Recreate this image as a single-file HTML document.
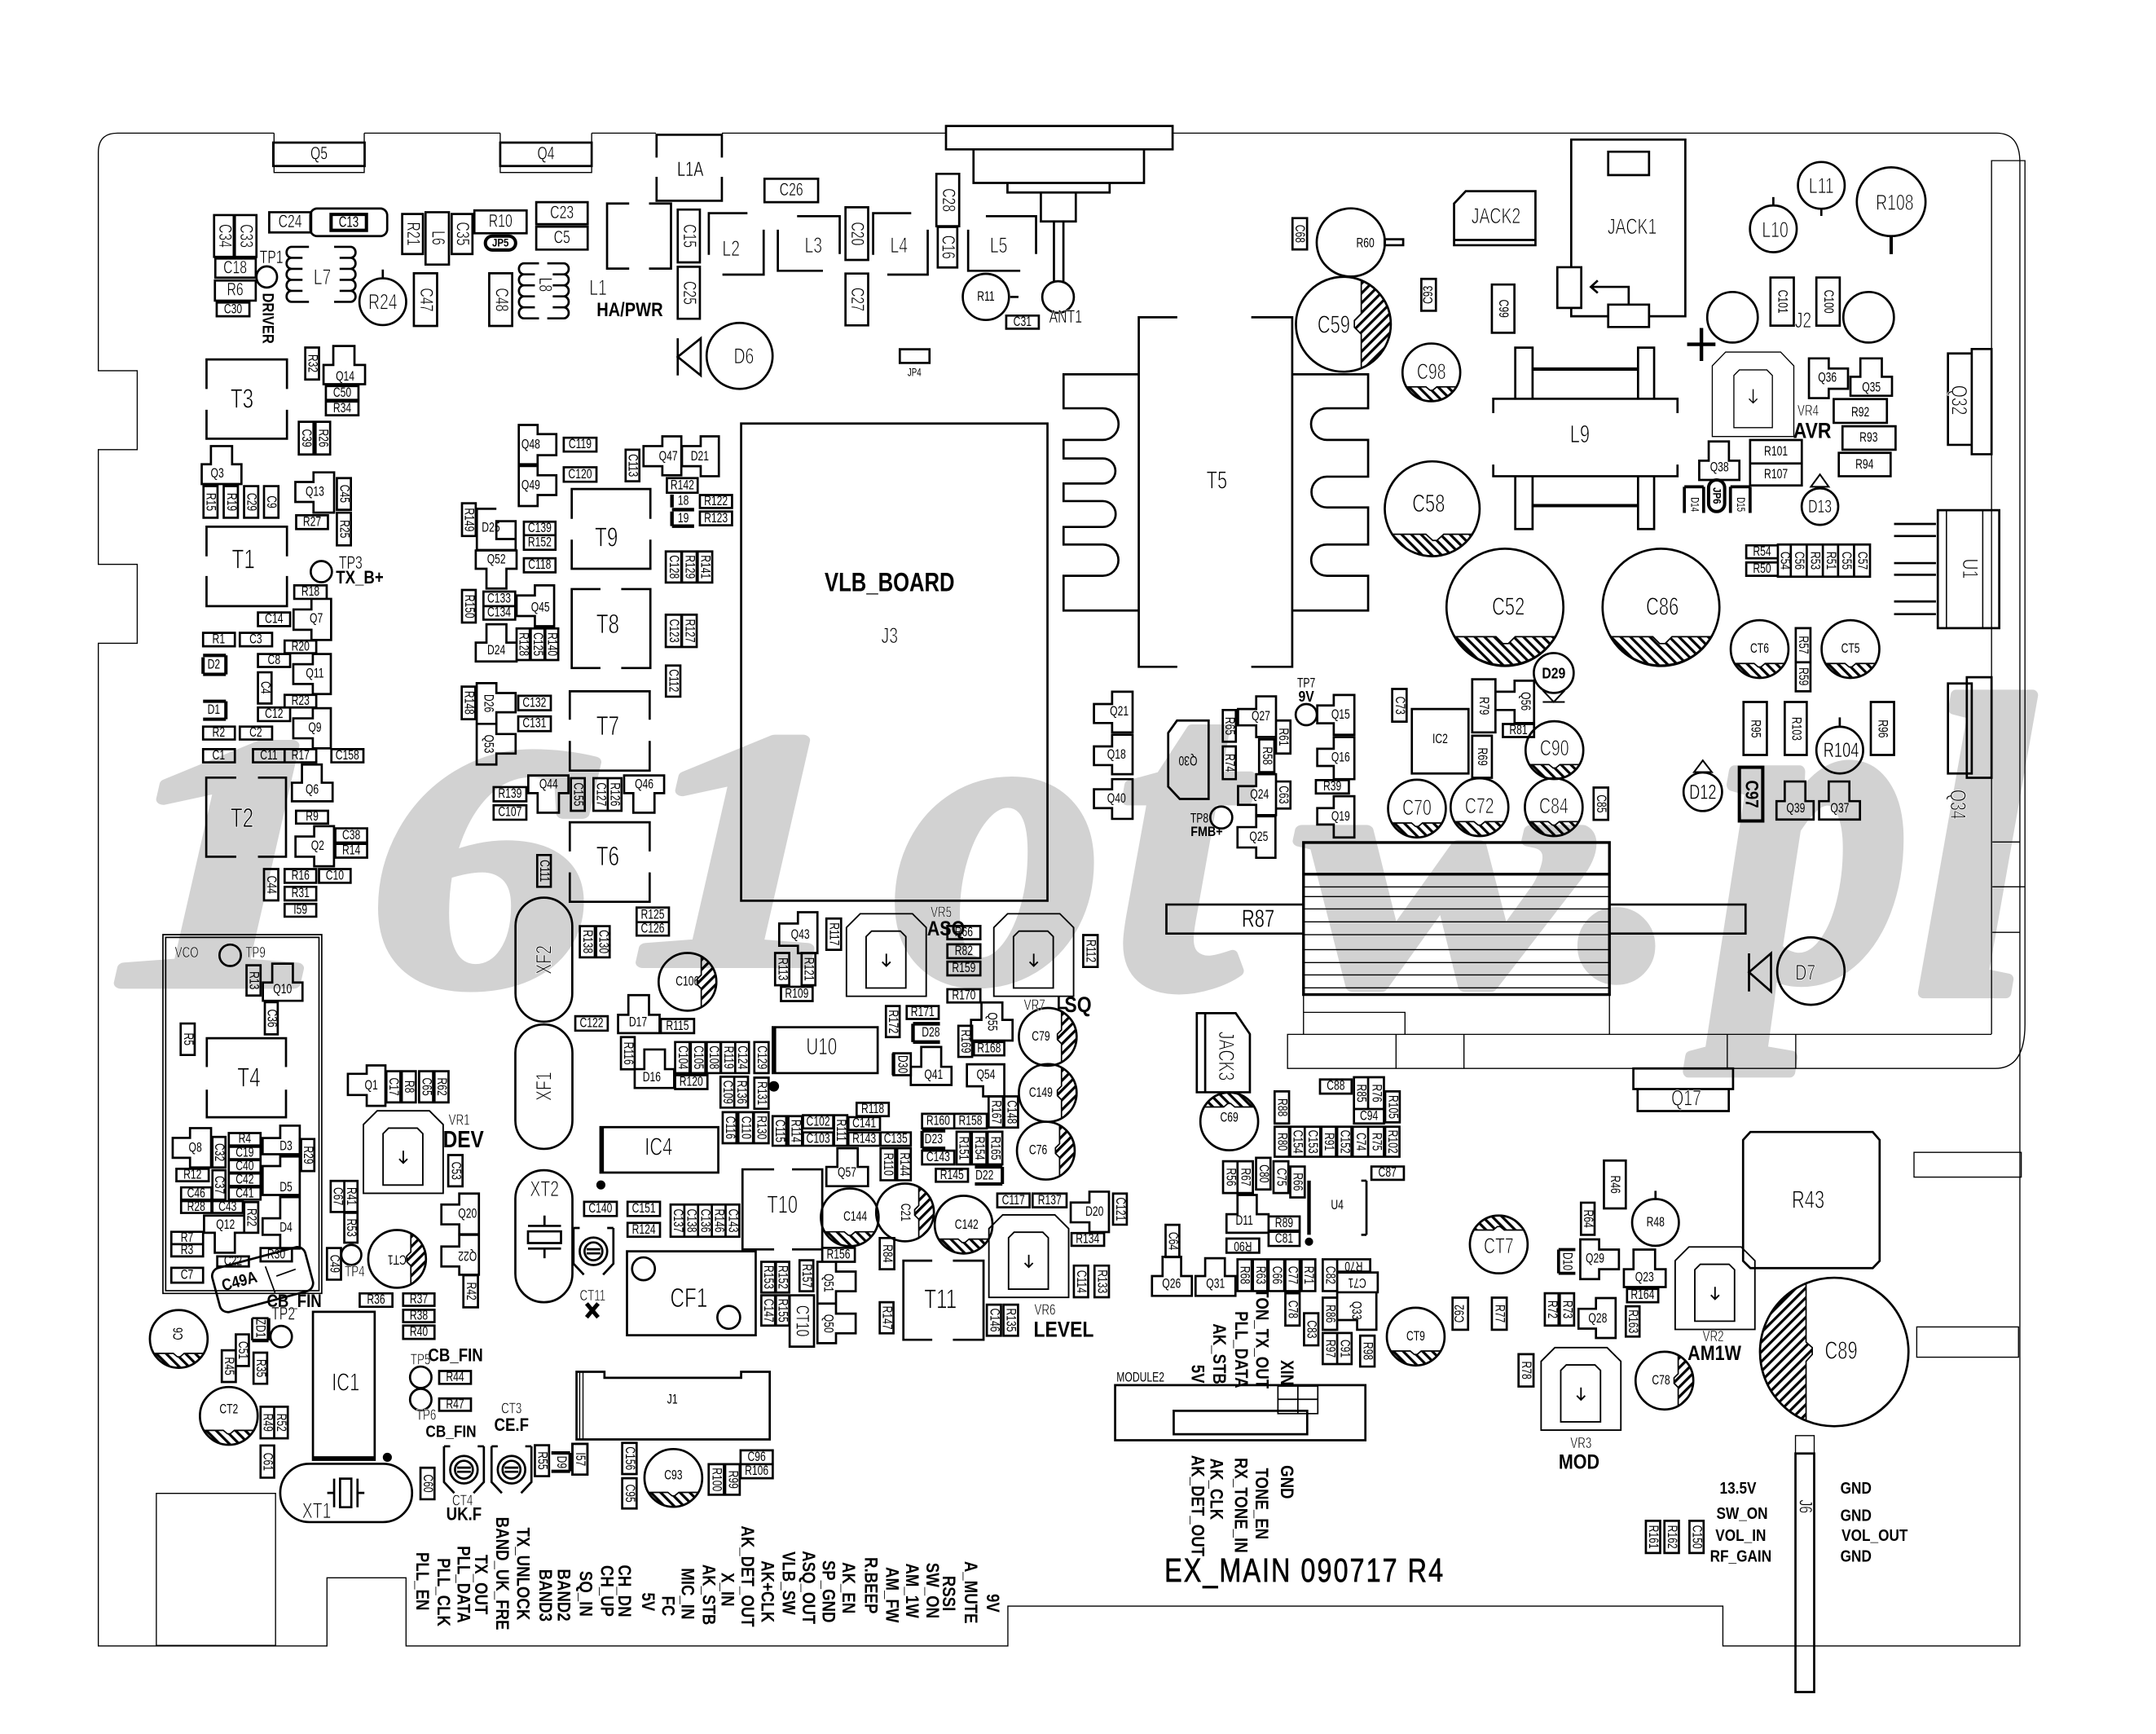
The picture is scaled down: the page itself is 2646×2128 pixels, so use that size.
<!DOCTYPE html>
<html><head><meta charset="utf-8"><title>EX_MAIN 090717 R4</title>
<style>
html,body{margin:0;padding:0;background:#fff}
svg{display:block}
.p{fill:none;stroke:#000;stroke-width:1.6}
.h{fill:none;stroke:#000;stroke-width:.8}
text{font:10px "Liberation Sans",sans-serif;fill:#000;stroke:none;text-anchor:middle;dominant-baseline:central;--s:.72;transform-box:fill-box;transform-origin:center;transform:scaleX(var(--s))}
.v{transform:rotate(90deg) scaleX(var(--s))}
.u{transform:rotate(-90deg) scaleX(var(--s))}
.i{transform:rotate(180deg) scaleX(var(--s))}
.c{transform:rotate(-15deg) scaleX(var(--s))}
.m{font-size:13px}.l{font-size:16px}.x{font-size:20px}.n{font-size:8px}
.B{font-weight:bold;--s:.85}
.m:not(.B){stroke:#fff;stroke-width:.25}
.l:not(.B),.x:not(.B){stroke:#fff;stroke-width:.5}
text.w{font:italic bold 262px "Liberation Serif",serif;fill:#d2d2d2;stroke:#d2d2d2;stroke-width:8;stroke-linejoin:round;text-anchor:start;dominant-baseline:auto;transform:none}
</style></head><body>
<svg xmlns="http://www.w3.org/2000/svg" width="2646" height="2128" viewBox="0 0 1568 1261">
<defs>
<pattern id="hr" width="5" height="5" patternUnits="userSpaceOnUse" patternTransform="rotate(45)"><rect width="1.9" height="5" fill="#000"/></pattern>
<pattern id="hl" width="5" height="5" patternUnits="userSpaceOnUse" patternTransform="rotate(-45)"><rect width="1.9" height="5" fill="#000"/></pattern>
<g id="cb"><circle r="21"/><path fill="url(#hl)" stroke-width="1" d="M-18.2 10.5H-4L-1 13H1L4 10.5H18.2A21 21 0 0 1 -18.2 10.5Z"/></g>
<g id="ct"><circle r="21"/><path fill="url(#hl)" stroke-width="1" d="M-18.2 -10.5H-4L-1 -13H1L4 -10.5H18.2A21 21 0 0 0 -18.2 -10.5Z"/></g>
<g id="cr"><circle r="21"/><path fill="url(#hr)" stroke-width="1" d="M10 -18.5A21 21 0 0 1 10 18.5V5L7 2V-2L10 -5Z"/></g>
<g id="vr"><path stroke-width="1.1" d="M0 60V10L10 0H48L58 10V60Z"/><path stroke-width="1.1" d="M14.3 54V16.6L18.3 12.6H39.2L43.2 16.6V54Z"/><path stroke-width="1.1" d="M29 29V38M26 35L29 38L32 35"/></g>
<g id="tr"><path d="M-14.5 -17H-10M-14.5 -17V9L-7 17M14.5 -17H10M14.5 -17V9L7 17"/><circle r="10"/><circle r="6.5"/><path d="M-5 -1.5H5M-5 1.5H5"/></g>
</defs>

<g transform="translate(80 715) scale(1.3 1)"><text class="w">1</text></g>
<g transform="translate(269 715) scale(1.3 1)"><text class="w" style="font-size:251px">6</text></g>
<g transform="translate(460 700) scale(1.3 1)"><text class="w" style="font-size:245px">1</text></g>
<g transform="translate(650 712)"><text class="w" style="font-size:304px">o</text></g>
<g transform="translate(810 716)"><text class="w" style="font-size:329px">t</text></g>
<g transform="translate(945 715) scale(1.3 1)"><text class="w" style="font-size:242px">w</text></g>
<g transform="translate(1149 708)"><text class="w" style="font-size:300px">.</text></g>
<g transform="translate(1248 710) scale(1 1.15)"><text class="w" style="font-size:282px">p</text></g>
<g transform="translate(1392 722)"><text class="w" style="font-size:312px">l</text></g>

<!-- board outline and thin lines -->
<g class="h">
<path d="M199.3 96.8H85.5Q71.5 96.8 71.5 110.8V269.6H99.8V327H71.5V410.4H99.8V467.8H71.5V1197H237.8V1147.4H295.3V1197H733V1168H1253V1197H1469V118Q1469 96.8 1452 96.8H853M264.9 96.8H363.8M430.3 96.8H477M199.3 96.8V125.4H264.9V96.8M363.8 96.8V125.4H430.3V96.8M525 96.8H688"/>
<path d="M1448.4 752V116.8H1472.7V745Q1472.7 777 1451 777H936.4V752.2H1448.4M1015.3 752.2V777M1064.7 752.2V777M1256.2 752.2V777M1306 752.2V777"/>
<path d="M1449 612.3H1469M1449 644.9H1472.7M1449 678H1469"/>
<path d="M948 723V752.2M1170.5 723V752.2M948 736.2H1021.8V752.2"/>
<path d="M1392 838H1470V856H1392ZM1394 965H1468V987H1394ZM113.7 1086H200.4V1196.6H113.7Z"/>
<path d="M948 645H1170.5M948 652H1170.5M948 661H1170.5M948 670.4H1170.5M948 679.7H1170.5M948 690.6H1170.5M948 700H1170.5M948 709H1170.5M948 718.4H1170.5"/>
<path d="M1245.3 317.4V266L1255 256H1295L1304.6 266V317.4ZM1261 311V273L1265 269H1285L1289 273V311ZM1275 283V293M1272 290L1275 293L1278 290"/>
</g>

<g class="p">
<!-- top transistors -->
<path d="M198.7 103.7H265.2V120.7H198.7ZM363.8 103.7H430.3V120.7H363.8Z"/>
<path d="M477.5 114.6V98H525V114.6M477.5 128.6V146H525V128.6"/>
<path d="M155.7 156.4H170V186.8H155.7ZM170.8 156.4H186.5V186.8H170.8ZM156.6 188H186V201.9H156.6ZM156.3 204H186V218.6H156.3ZM157.6 220H181.4V230H157.6Z"/>
<ellipse cx="194" cy="201.4" rx="7.5" ry="7.7"/>
<path d="M195.8 154.3H226.3V169H195.8Z"/><rect x="225.7" y="151.6" width="55.9" height="20.1" rx="5"/><path d="M240.8 155.9H266.5V167.5H240.8Z" stroke-width="2.4"/>
<path d="M224.7 179.5H212a3.6 4 0 0 0 0 8h8m-8 0a3.6 4 0 0 0 0 8h8m-8 0a3.6 4 0 0 0 0 8h8m-8 0a3.6 4 0 0 0 0 8h8m-8 0a3.6 4 0 0 0 0 8H224.7M243 179.5H255a3.6 4 0 0 1 0 8h-8m8 0a3.6 4 0 0 1 0 8h-8m8 0a3.6 4 0 0 1 0 8h-8m8 0a3.6 4 0 0 1 0 8h-8m8 0a3.6 4 0 0 1 0 8H243"/>
<circle cx="278.4" cy="219.4" r="17"/><path d="M278.4 196V202.4"/>
<path d="M292.5 155.6H307.6V184.7H292.5ZM309.5 154.3H326.5V192.4H309.5ZM328.5 155.6H343.6V184.7H328.5ZM345 153H383V169.6H345ZM390 147H427.4V163H390ZM390 164.8H427.4V181.5H390ZM301 198.7H317.9V237H301ZM355.8 198.7H372.5V237H355.8Z"/>
<rect x="353" y="171.7" width="22" height="10.1" rx="5" stroke-width="2.4"/>
<path d="M392 191.5H381a3.6 4 0 0 0 0 8h8m-8 0a3.6 4 0 0 0 0 8h8m-8 0a3.6 4 0 0 0 0 8h8m-8 0a3.6 4 0 0 0 0 8h8m-8 0a3.6 4 0 0 0 0 8H392M398 191.5H410a3.6 4 0 0 1 0 8h-8m8 0a3.6 4 0 0 1 0 8h-8m8 0a3.6 4 0 0 1 0 8h-8m8 0a3.6 4 0 0 1 0 8h-8m8 0a3.6 4 0 0 1 0 8H398"/>
<path d="M457.6 148H441.5V195.3H457.6M472 148H488V195.3H472"/>
<path d="M492.9 152.4H509V190.8H492.9ZM492.9 194H509V231.8H492.9ZM556 130H595V147H556Z"/>
<path d="M543.6 155H515.5V185.3M525.4 199.7H555.4V167M579.7 157.2H610.7V184.7M565.7 167V196.9H598.5M662.7 155H635V185.3M645.3 199.7H674.7V167M717 157.2H753.5V184.7M704.1 167V196.9H742"/>
<path d="M614.9 150.7H631.4V189H614.9ZM614.9 198.9H631.4V236.6H614.9ZM681 126.4H697.6V164.5H681ZM682 165H696.2V194.5H682Z"/>
<circle cx="717" cy="215.9" r="16.8"/><path d="M734.7 215.9H740.7M731.8 229.5H755.5V239H731.8ZM654.4 254H676V263.9H654.4Z"/>
<path d="M688 91.6H852.8V108.6H688ZM708 108.6V133H832V108.6M732.7 133V140H807V133M757 140V161H782.4V140M766.5 161V204.5M773.4 161V204.5"/>
<circle cx="769.5" cy="216" r="11.5"/>
<circle cx="537.9" cy="258.8" r="24"/><path d="M492.9 246V273M492.9 259.5L509.6 246V273Z"/>

<!-- left column -->
<path d="M150.2 282.9V261.4H208.7V282.9M150.2 298V319H208.7V298M150.2 404.6V383H208.7V404.6M150.2 418.9V440.8H208.7V418.9M171.8 565.5H150V623H171.8M187.6 565.5H208V623H187.6"/>
<path d="M222 252.7H232V276H222ZM235.3 279.4V265.4H242.4V251.6H257.8V265.4H265.5V279.4ZM237 280.7H260.7V290.8H237ZM237 292H260.7V302H237ZM217.3 306.7H228V330.5H217.3ZM229.5 306.7H240.1V330.5H229.5Z"/>
<path d="M146.7 352V337.6H153.4V324.4H168.8V337.6H175.6V352ZM148 353.5H158.2V376.5H148ZM162.7 353.5H173V376.5H162.7ZM177.5 353.5H187.8V376.5H177.5ZM192 353.5H202.5V376.5H192Z"/>
<path d="M228 343.5H243V372.8H228V365H214.8V350.5H228ZM245 347.7H255.2V370.7H245ZM245 372.8H255.2V396.6H245ZM215.4 374.7H238.5V384.7H215.4Z"/>
<circle cx="233.7" cy="415.7" r="7.7"/>
<path d="M214 425.7H237.6V435.5H214ZM226.5 435.5H240.8V465.4H226.5V458H213.5V443.2H226.5ZM187.6 445.4H211V455.3H187.6ZM147.7 460.2H170.8V470H147.7ZM174.4 460.2H197.9V470H174.4ZM207 465.8H230V475H207ZM187.6 475.6H211V485H187.6Z"/>
<path d="M227.5 475.6H240.6V504.7H227.5V497.4H213.3V483H227.5ZM187.6 488.9H197.5V511.6H187.6ZM207 505.3H230V514.5H207ZM187.6 514.5H211V524.4H187.6ZM227.5 515H240.6V544.2H227.5V536.9H213.3V522.4H227.5Z"/>
<path d="M147.7 528.4H170.8V537.8H147.7ZM174.4 528.4H197.9V537.8H174.4ZM147.7 544.8H170.8V554.4H147.7ZM184 544.8H207V554.4H184ZM207 544.8H230V554.4H207ZM241 544.8H264.3V554.4H241Z"/>
<path stroke-width="2.4" d="M147.7 478V490M164.3 476.6V490.4M147.7 476.6H164.3M147.7 490.4H164.3M147.7 510H164.3M147.7 523H164.3M164.3 510V523"/>
<path d="M212.3 582.7V569.2H219.6V556H234V569.2H241.9V582.7ZM215.3 589.6H238.6V598.9H215.3ZM228.5 600.8H242.9V630H228.5V623H214.9V608.3H228.5ZM243.9 602.4H267V612.7H243.9ZM243.9 613.7H267V623.7H243.9ZM207 632H230V642H207ZM232 632H255V642H232ZM192 632H202.4V654.8H192ZM207 644.9H230V654.8H207ZM207 657.3H230V666.6H207Z"/>

<!-- VCO -->
<path stroke-width="1" d="M118.5 679.7H234V940.6H118.5ZM120.5 681.7H232V938.6H120.5Z"/>
<circle cx="167.4" cy="694.7" r="7.8"/>
<path d="M179.3 702H189.5V724H179.3ZM191.2 727.8V714.5H198V700.8H213V714.5H220V727.8ZM192.6 728.8H202V752.2H192.6ZM131.4 744.3H141.6V767.2H131.4Z"/>
<path d="M150.4 776V755H208V776M150.4 792.4V812.5H208V792.4"/>
<path d="M138.2 820.4H153.5V849H138.2V842H125.6V827.5H138.2ZM154.5 826.8H164V849H154.5ZM154.5 851H164V872.4H154.5ZM166.4 824H189.5V833H166.4ZM166.4 834H189.5V843H166.4ZM166.4 843.7H189.5V852.7H166.4ZM166.4 853.4H189.5V862.4H166.4ZM166.4 863.5H189.5V872.4H166.4Z"/>
<path d="M203.8 818.6H218V839.4H191V827.6H203.8ZM203.8 841H218V869H191V848H203.8ZM203.8 870.6H218V908H203.8V898H191V886H203.8ZM219 828.3H228.6V851.6H219Z"/>
<path d="M128.3 850H151.8V859H128.3ZM131.7 863.5H153.8V872.4H131.7ZM131.7 873.5H153.8V882.1H131.7ZM154.5 873.5H176.6V882.1H154.5ZM177.6 874.2H187.8V896.5H177.6ZM148.4 896.5V884H177.6V896.5H170.8V911H156.2V896.5ZM124.6 895.8H147.7V904.8H124.6ZM124.6 904.8H147.7V913.7H124.6ZM124.6 922H147.7V932.8H124.6ZM158 913.7H181V921H158ZM189.5 907.6H212.3V917.3H189.5Z"/>
<rect x="156" y="914" width="70" height="33" rx="6" transform="rotate(-15 191.2 930.6)"/>
<path stroke-width="1" d="M193 921L200 940M201 928L215 923"/>
<use href="#cb" transform="translate(130 973.7)"/>
<path stroke-width="2.6" d="M183.4 974.8H195.3M195.3 958.6V974.8"/><path d="M183.4 958.6H195.3M183.4 958.6V974.8"/>
<circle cx="204.5" cy="972" r="7.8"/>
<path d="M171.5 970.4H181V993.4H171.5ZM161.3 982H171.5V1005H161.3ZM184.4 983.7H194.3V1006.3H184.4Z"/>
<use href="#cb" x="166.4" y="1029.7"/>
<path d="M189.5 1023H199.4V1046H189.5ZM199.4 1023H209.3V1046H199.4ZM189.5 1051.2H199.4V1074.6H189.5Z"/>
<path d="M227.6 954H272.5V1061.6H227.6Z"/><path stroke-width="3" d="M227.6 1060.5H272.5"/>
<circle cx="281.7" cy="1059.8" r="2.5" fill="#000"/>
<rect x="203.8" y="1064.5" width="95.9" height="42.4" rx="21.2"/>
<path d="M247.3 1075.3H255.5V1096.1H247.3ZM243 1075.3V1096.1M260 1075.3V1096.1M238 1085.7H243M260 1085.7H265"/>
<path d="M305.8 1067.4H316V1090.3H305.8Z"/>
<use href="#tr" x="337.4" y="1068.8"/><use href="#tr" x="372" y="1068.8"/>
<path d="M389 1051H399.3V1073.5H389ZM416.3 1050H427.2V1072.4H416.3Z"/>
<path stroke-width="2.4" d="M401 1056.6H414.6M401 1070H414.6M414.6 1056.6V1070"/>
<circle cx="306" cy="1001.6" r="7.8"/><circle cx="306" cy="1017.8" r="7.8"/>
<path d="M319.4 997H342.5V1006.4H319.4ZM319.4 1017H342.5V1026H319.4ZM261.6 940.6H285.4V950.3H261.6ZM293.2 940.6H316V949.6H293.2ZM293.2 952.5H316V961.5H293.2ZM293.2 964H316V973.7H293.2ZM337 927.4H347.6V950.7H337Z"/>
<use href="#cr" x="288.8" y="915.5"/>
<circle cx="255.5" cy="912.6" r="7.3"/>
<path d="M237.8 907.6H248V930.6H237.8ZM240.5 858.8H250.4V881.4H240.5ZM250.4 858.8H260V881.4H250.4ZM250.4 882H260V903.7H250.4Z"/>
<path d="M334 868H348.3V897.6H334V890.4H321V876H334ZM334 898H348.3V927H334V921H321V906.5H334Z"/>
<use href="#vr" x="264.3" y="807.8"/>
<path d="M326 840H336.4V862.7H326ZM266.7 774.8H280.3V804.2H266.7V796.3H253V780.9H266.7ZM281 779H291.2V801.7H281ZM292.2 779H302.4V801.7H292.2ZM304.8 779H315V801.7H304.8ZM316 779H326.2V801.7H316Z"/>

<!-- crystals and filters -->
<rect x="374.9" y="652.8" width="41.3" height="90.2" rx="20.6"/><rect x="374.8" y="745" width="41.5" height="90.5" rx="20.7"/><rect x="374.8" y="851" width="41.5" height="96" rx="20.7"/>
<path d="M384 895.5H408V904H384ZM384 891.5H408M384 908H408M396 884V891.5M396 908V915"/>
<circle cx="437" cy="861.7" r="2.5" fill="#000"/>
<use href="#tr" x="431.6" y="910"/>
<path stroke-width="3" d="M426.6 948L435 958M435 948L426.6 958"/>
<path d="M424.8 874H448.6V884.3H424.8ZM456.4 874H480V884.3H456.4ZM456.4 889.3H480V899.4H456.4ZM487.7 876H537.7V899.4H487.7ZM497.7 876V899.4M507.7 876V899.4M517.7 876V899.4M527.7 876V899.4"/>
<path d="M456 910H549.6V971H456Z"/><circle cx="468" cy="922.7" r="8.3"/><circle cx="530" cy="958" r="8.3"/>
<path d="M436.7 819.7H522.4V852.7H436.7Z"/><path stroke-width="3" d="M437.7 819.7V852.7"/>
<path d="M563 850.4H540V908.6H563M576 850.4H598V908.6H576"/>

<!-- center-left column of parts -->
<path d="M346 366H336V389.8H346ZM361 370H346.8V400H375V392H361V379H375V392M361 379H361"/>
<path d="M381 379.4H404V389.2H381ZM381 389.2H404V399.8H381ZM381 406H404V416.2H381ZM346 413.6V400.3H375.7V413.6H368.3V428H353.8V413.6ZM336 429H346V452.7H336ZM351.6 430.2H374.7V440.8H351.6ZM351.6 440.8H374.7V450.6H351.6ZM389 425.7H403V455.4H389V448H375.7V433H389ZM346 481V467.3H353.8V454H368.3V467.3H375.7V481ZM375.7 457H385.3V480H375.7ZM386 457H396V480H386ZM396.6 457H406V480H396.6Z"/>
<path d="M415.8 377.3V355.6H473V377.3M415.8 392.4V413.6H473V392.4M436.7 428.4H415.8V485.8H436.7M451.8 428.4H473V485.8H451.8M414.4 523.4V502.7H472.5V523.4M414.4 538.8V560.4H472.5V538.8M414.4 619.2V598H472.5V619.2M414.4 634.4V655.8H472.5V634.4"/>
<path d="M484.2 401H495.5V423.6H484.2ZM496 401H506.7V423.6H496ZM507.4 401H518V423.6H507.4ZM484.2 447H495.5V470.5H484.2ZM496 447H506.7V470.5H496ZM484.3 484H494.8V506.6H484.3Z"/>
<path d="M391 309H377.3V337.6H391V331H404.6V315.7H391ZM391 338.9H377.3V368H391V360H404.6V345.6H391ZM410 318.3H433.8V328.4H410ZM410 339.8H433.8V350.3H410ZM455 327H465V350H455ZM481.7 317.3H495.5V345.6H481.7V339H468V324.4H481.7ZM509.6 317.3H522.8V346.3H509.6V339H496V324.4H509.6ZM485 347.7H507.4V358.3H485ZM509 360H532.4V369.4H509ZM509 372H532.4V382H509Z"/>
<path stroke-width="2.6" d="M488.7 359.6V369M488.7 370.6H504.8M488.7 372V382.6M488.7 382.6H504.8"/>
<path d="M335.8 499.3H345.7V523H335.8ZM346.7 496.8H361V504H375V518H361V526.4H346.7ZM346.7 526.4H361V533.8H375V548H361V556H346.7ZM376.9 506H400.6V516.5H376.9ZM376.9 521H400.6V531.7H376.9Z"/>
<path d="M384.2 563.9H413.4V576.8H406.5V591H391V576.8H384.2ZM359 572.4H382.8V582.7H359ZM359 585.6H382.8V596.1H359ZM415.2 565.9H425.3V589.6H415.2ZM431.6 565.9H442V589.6H431.6ZM442 565.9H452V589.6H442ZM453.9 563.9H483V576.8H476V591H460.6V576.8H453.9ZM390.7 621.8H400.6V644.9H390.7Z"/>
<path d="M463 660H486.5V670.6H463ZM463 670.6H486.5V680.4H463ZM421.7 673.5H432.6V696.2H421.7ZM433.6 673.5H443.4V696.2H433.6Z"/>
<use href="#cr" x="500" y="714"/>
<path d="M418.4 739H442V749.5H418.4ZM449.5 751.3V738H457V723.7H472V738H479.7V751.3ZM480.6 741H504.8V751.3H480.6ZM451.6 754.2H461.6V777.6H451.6ZM461.6 791.2V777.5H468.6V763.2H483.6V777.5H490.3V791.2Z"/>
<path d="M491 757.8H501.5V780.4H491ZM502.4 757.8H513V780.4H502.4ZM514 757.8H524V780.4H514ZM524.4 757.8H534.7V780.4H524.4ZM534.7 757.8H544.7V780.4H534.7ZM491 781.9H514.5V792H491ZM524 783H534V805.5H524ZM534 783H544V805.5H534ZM548.6 757.8H559V780.4H548.6ZM548.6 783.7H559V806.3H548.6Z"/>
<path d="M562 747H638.3V780.4H562Z"/><path stroke-width="3" d="M563 747V780.4"/><circle cx="562.8" cy="790" r="3" fill="#000"/>
<path d="M525.6 808.8H535.6V831.4H525.6ZM537 808.8H547.7V831.4H537ZM548.3 808.8H559V831.4H548.3ZM561.9 811.7H571.8V833.2H561.9ZM573.4 811.7H583.3V833.2H573.4ZM584 811H606V820.6H584ZM584 823.5H606V833.2H584ZM606.6 811H616.2V833.2H606.6ZM623 802H646.4V811.7H623ZM617 812.4H640V821.7H617ZM617 823.5H640V833.2H617ZM640.4 823.5H662.4V833.2H640.4ZM601 862.6V848.6H609V835H623.8V848.6H631.3V862.6ZM640.4 835H651V858.3H640.4ZM652.5 835H662.4V858.3H652.5Z"/>
<path d="M670.6 810H694V820.6H670.6ZM694 810H717.7V820.6H694ZM670.6 836.8H694V846.8H670.6ZM695.7 823H705.6V846.8H695.7ZM706.8 823H717.4V846.8H706.8ZM718.3 823H729V846.8H718.3ZM680.6 850H704V859.4H680.6ZM719 797.3H729.5V820H719ZM730.4 797.3H740.4V820H730.4Z"/>
<path stroke-width="2.4" d="M670.6 822.4V835M670.6 822.4H687.5M670.6 835H687.5M709 848.6H729M709 861H729M729 848.6V861"/>
<path d="M703.2 774H730.4V797.3H715V790H703.2ZM708.3 757.8H730.4V767.5H708.3ZM697 746H707V768.6H697ZM706.2 756.7V741.7H713.8V729H729V741.7H736.4V756.7Z"/>
<use href="#cr" x="762" y="754"/><use href="#cr" x="762" y="794.8"/><use href="#cr" x="760.6" y="836.8"/>
<path d="M659.4 731.6H682.7V741H659.4ZM644.3 731.6H654.3V754.2H644.3ZM662.4 789V775.8H670V761.4H684.5V775.8H692V789Z"/>
<path stroke-width="2.6" d="M664 744.5V757.8M664 744.5H683.6M664 757.8H683.6M649.8 766V781.9"/><path d="M649.8 766H662.4V781.9H649.8Z"/>
<path d="M689 719.4H713V729H689ZM689 699.3H713V709.3H689ZM689 686.7H713V696.8H689ZM689 673.4H713V683H689Z"/>
<use href="#vr" x="615.6" y="664.5"/><use href="#vr" x="722.8" y="664.5"/>
<path d="M787.8 680H798.3V703.2H787.8ZM770 725V733H776M580.3 663.4H594.5V693.2H580.3V687.8H566.7V671.6H580.3ZM601 668H611.7V690.7H601ZM563.7 693H574V716.5H563.7ZM583 693H593V716.5H583ZM568 717.6H591V728H568Z"/>
<use href="#cb" x="618" y="885.3"/><use href="#cr" x="658.2" y="881.7"/><use href="#cb" x="700.8" y="890.6"/>
<path d="M598 907.5H621.7V917.6H598ZM639.8 900.3H650.4V923H639.8ZM553.7 917.6H563.7V940H553.7ZM564.3 917.6H574V940H564.3ZM581.5 916.5H591.5V939H581.5ZM553.7 942H563.7V964H553.7ZM564.3 942H574V964H564.3ZM574.3 942H592V979.3H574.3ZM608 917.6H594.5V948H608V939H622.3V924.7H608ZM608 948H594.5V976.8H608V969.6H622.3V955.3H608ZM639.8 947H649.8V969.6H639.8Z"/>
<path d="M678 916.8H657V974.3H678M693 916.8H715.3V974.3H693"/>
<use href="#vr" x="719.2" y="883.5"/>
<path d="M717.7 948.8H728V971.4H717.7ZM729.8 948.8H740.4V971.4H729.8ZM781 920.4H791.4V943.4H781ZM796 920.4H806.5V943.4H796ZM725.3 868H748.8V878H725.3ZM751 868H775.7V878H751ZM792.3 866.6H806.5V896H792.3V888.9H778.7V874.5H792.3ZM779.3 896.7H803V906H779.3ZM809.5 868H819.5V890.6H809.5Z"/>
<path d="M419.3 1046.8V997.6H439.6V1002H539V997.6H559.8V1046.8Z"/><path stroke-width=".8" d="M421.6 997.6V1046.8M424 997.6V1046.8"/>
<path d="M416.3 1050H427.2V1072.4H416.3ZM452.5 1049.3H463V1072H452.5ZM452.5 1075H463V1097H452.5ZM515.4 1064.8H526.5V1087H515.4ZM527.4 1064.8H538V1087H527.4ZM538.6 1054.7H562V1064.8H538.6ZM538.6 1064.8H562V1075H538.6Z"/>
<use href="#cb" x="489.7" y="1074.8"/>

<!-- J3 -->
<path d="M539 308H761.8V655H539Z"/>

<!-- T5 -->
<path d="M856.2 230.7H828.2V484.9H856.2M910 230.7H939.8V484.9H910"/>
<path d="M828.2 272.2H773.5V296.9H802a11.5 11.5 0 0 1 0 23H773.5V333.4H802a9.2 9.1 0 0 1 0 18.2H773.5V364.4H802a9.4 9.4 0 0 1 0 18.8H773.5V396H802a11.4 11.35 0 0 1 0 22.7H773.5V444H828.2"/>
<path d="M939.8 272.2H995V296.9H965a11.5 11.5 0 0 0 0 23H995V346.6H965a11.2 11.2 0 0 0 0 22.4H995V396H965a11.4 11.35 0 0 0 0 22.7H995V444H939.8"/>
<circle cx="982.4" cy="176.3" r="24.8"/><path d="M1007 174H1020.5V178.3H1007ZM940 158.6H950.6V181.4H940Z"/>
<circle cx="977" cy="235.8" r="34.5"/><path fill="url(#hr)" stroke-width="1" d="M990 203.8A34.5 34.5 0 0 1 990 267.8V243L985 238V233L990 228Z"/>
<path d="M1057.5 178.3V148L1066 139H1116.7V178.3ZM1057.5 174.5H1116.7"/>
<path d="M1142.7 194.3V101.5H1225.7V230H1199.3M1169.6 230H1142.7V223.9M1169.6 110.3H1199.3V127.3H1169.6ZM1132.6 194.3H1150V223.9H1132.6ZM1169.6 221.5H1199.3V237.8H1169.6ZM1184.5 221.5V208.6H1158M1162 204L1157 208.6L1162 213"/>
<circle cx="1324.6" cy="134.8" r="17"/><path d="M1324.6 152V157"/><circle cx="1289.7" cy="166.4" r="17"/><path d="M1289.7 143.3V149.4"/>
<circle cx="1375.4" cy="146.7" r="25"/><path stroke-width="2.4" d="M1375.4 171.5V184.8"/>
<path d="M1033.7 202.8H1044.3V226H1033.7ZM1085 206.9H1101.4V242H1085ZM1287.6 201.8H1304.6V236.8H1287.6ZM1321 201.8H1338V236.8H1321Z"/>
<use href="#cb" x="1041" y="270.8"/>
<circle cx="1260" cy="230.7" r="18.4"/><circle cx="1359" cy="230.7" r="18.4"/>
<path stroke-width="2.6" d="M1227 250.4H1247.6M1237.4 238.5V262.5"/>
<path d="M1330 260.6H1315.6V289.5H1330V282.7H1344V268H1330ZM1345.8 287.8V274H1353V260.6H1368.6V274H1376V287.8ZM1333.6 290.2H1372.3V307.5H1333.6ZM1340 310H1378.6V327H1340ZM1337.3 329.3H1375V346.3H1337.3Z"/>
<path d="M1416.7 257H1434V323.5H1416.7ZM1434 253.8H1448.4V330.3H1434Z"/>
<path d="M1086 300.4V290H1220V300.4M1086 337.8V346.3H1220V337.8M1102 290V252.8H1114.6V290M1191.3 290V252.8H1203V290M1102 346.3V384.7H1114.6V346.3M1191.3 346.3V384.7H1203V346.3"/>
<path stroke-width="2.4" d="M1114.6 268.4H1191.3M1114.6 367.7H1191.3"/>
<path d="M1235.8 349V335H1242.7V321H1257.4V335H1265V349ZM1272.8 320H1310.4V337H1272.8ZM1272.8 337H1310.4V353H1272.8Z"/>
<circle cx="1323.6" cy="368.4" r="13.3"/><path d="M1317 354L1323.6 345L1330 354ZM1317 354H1330" stroke-width="1.2"/>
<path stroke-width="2.2" d="M1225 354H1239M1225 354V373M1239 354V373M1258.5 354H1272.8M1258.5 354V373M1272.8 354V373"/>
<rect x="1242.6" y="349" width="11.7" height="23" rx="5.8" stroke-width="2.4"/>
<circle cx="1041.6" cy="370" r="34.5"/><path fill="url(#hl)" stroke-width="1" d="M1012.5 388.5H1037L1042 393H1045L1050 388.5H1070.5A34.5 34.5 0 0 1 1012.5 388.5Z"/>
<circle cx="1094.5" cy="441.5" r="42.5"/><path fill="url(#hl)" stroke-width="1" d="M1057.5 463H1088L1093 468H1097L1102 463H1131.5A42.5 42.5 0 0 1 1057.5 463Z"/>
<circle cx="1208" cy="441.5" r="42.5"/><path fill="url(#hl)" stroke-width="1" d="M1171 463H1202L1207 468H1211L1216 463H1245A42.5 42.5 0 0 1 1171 463Z"/>
<path d="M1409.3 371H1454V456.8H1409.3ZM1377.5 381H1408M1377.5 389.8H1408M1377.5 409.5H1408M1377.5 418H1408M1377.5 437.4H1408M1377.5 446.6H1408"/><path stroke-width=".9" d="M1415.6 371V456.8M1442 371V456.8"/>
<path d="M1270 396.6H1293V406H1270ZM1270 409H1293V418.7H1270ZM1293 396H1360V419.4H1293ZM1302.4 396V419.4M1314 396V419.4M1325.7 396V419.4M1336.8 396V419.4M1348.4 396V419.4"/>
<use href="#cb" x="1279.7" y="472"/><use href="#cb" x="1345.8" y="472"/>
<path d="M1306 456.8H1316.7V481.6H1306ZM1306 481.6H1316.7V502.7H1306ZM1268 510.5H1285V549H1268ZM1298 510.5H1314V549H1298ZM1360.6 510.5H1377.5V549H1360.6Z"/>
<circle cx="1338" cy="545.5" r="17"/><path d="M1338 521.7V528.5"/>
<circle cx="1238.4" cy="575.8" r="14"/><path d="M1232 561.5L1238.4 553L1245 561.5ZM1232 561.5H1245" stroke-width="1.2"/>
<path stroke-width="2.4" d="M1265 558H1282V597H1265Z"/>
<path d="M1292 596V582.6H1298V568.3H1313V582.6H1319V596ZM1323 596V582.6H1330V568.3H1345V582.6H1352.7V596ZM1416.7 497H1434V562.5H1416.7ZM1430.4 492.5H1448.4V565.6H1430.4Z"/>
<use href="#cb" x="1130.5" y="545.5"/><use href="#cb" x="1130" y="587"/><use href="#cb" x="1076" y="587"/><use href="#cb" x="1030.5" y="588"/>
<path d="M1159 572.7H1169.6V596.2H1159ZM1026.8 515.6H1068V562.5H1026.8ZM1012.5 501H1023V524.8H1012.5ZM1070.7 494H1087.6V532.6H1070.7ZM1070.7 535H1085V565.6H1070.7ZM1101.5 495H1115.7V525.8H1101.5V516.3H1087.6V503H1101.5ZM1093 526.5H1115.7V536H1093Z"/>
<circle cx="1130" cy="489.4" r="14.5"/><path d="M1122 502L1130 510.5L1138 502M1122 510.5H1138" stroke-width="1.2"/>
<path d="M808.8 503H823.7V532.6H808.8V525.8H795.6V512H808.8ZM808.8 534.3H823.7V563H808.8V556.4H795.6V542.8H808.8ZM808.8 566.6H823.7V595.5H808.8V587.7H795.6V574H808.8Z"/>
<path d="M849.6 533L856 524H879V581H858L849.6 572Z"/>
<path d="M889.3 516.3H898.8V539.4H889.3ZM889.3 542.8H898.8V566.6H889.3ZM913.6 506.4H928V536H913.6V527.5H900.4V515.6H913.6ZM928 524H938.5V548H928ZM915.7 537.7H926.8V561.5H915.7ZM913.6 563H928V592.8H913.6V585.3H900.4V571.7H913.6ZM928 568.3H938.5V588H928ZM913.6 593.6H927.6V623.8H913.6V616.3H900V601.5H913.6Z"/>
<circle cx="950" cy="519.7" r="7.7"/><circle cx="888.2" cy="594.5" r="8"/>
<path d="M970 505.4H985V534.3H970V526H958V513H970ZM970 536H985V566.6H970V557H958V544.5H970ZM957 567.3H981V577H957ZM970 579H985V609H970V599.6H958V587.7H970Z"/>

<!-- heatsink -->
<path stroke-width="2" d="M948 612.7H1170.5V723.3H948ZM948 635.7H1170.5"/>
<path d="M948 657.8H848.3V678.9H948M1170.5 657.8H1269.5V678.9H1170.5"/>
<circle cx="1317" cy="706.2" r="24.5"/><path d="M1272 693.3V721M1272 707L1288 693.3V721Z"/>
<path d="M870.4 794.3V736.8H898.7L909 752V794.3ZM876.5 736.8V794.3"/>
<path d="M1187.9 777H1260.4V792H1187.9ZM1191 792V808H1257.3V792"/>

<!-- lower center -->
<use href="#cb" transform="translate(894 815.5) rotate(180)"/>
<path d="M960 785H983V795.3H960ZM984.7 783.4H995V806.5H984.7ZM995 783.4H1006.5V806.5H995ZM1007.4 793.7H1018V816.2H1007.4ZM984.7 806.5H1006.5V817H984.7ZM927 793.7H937.5V817H927Z"/>
<path d="M927 819.4H937.5V841.2H927ZM938.4 819.4H948.9V841.2H938.4ZM948.9 819.4H960.2V841.2H948.9ZM961 819.4H971.6V841.2H961ZM972.5 819.4H982.9V841.2H972.5ZM983.8 819.4H995V841.2H983.8ZM995 819.4H1006.5V841.2H995ZM1007.4 819.4H1017.8V841.2H1007.4Z"/>
<path d="M889.5 844.5H900V867.6H889.5ZM900 844.5H911.2V867.6H900ZM913.5 842H924V865H913.5ZM926.2 844.5H937V867.6H926.2ZM938.4 848.3H948.9V870.8H938.4ZM997.4 848.3H1021V858H997.4Z"/>
<path stroke-width="2.6" d="M952 858.6V898"/><path d="M993.8 858.6V898M990 858.6H993.8M990 898H993.8"/><circle cx="952" cy="903" r="2.2" fill="#000"/>
<path d="M892 896.5V883H900V869H914V883H922.6V896.5ZM922.6 884.6H945.2V894.9H922.6ZM922.6 895.8H945.2V906.1H922.6ZM892 900.7H915.8V911H892Z"/>
<path d="M847.7 890.7H857.7V914.2H847.7ZM837.8 942.4V928H845.5V914H859V928H866.8V942.4ZM869.5 942.4V928H876.5V915H890.8V928H898.5V942.4Z"/>
<path d="M900 915.8H910.3V938.9H900ZM911.2 915.8H921.7V938.9H911.2ZM922.6 915.8H934V938.9H922.6ZM934.8 915.8H945.2V938.9H934.8ZM946.6 915.8H956.6V938.9H946.6ZM962 915.8H972.5V938.9H962ZM972.5 915.8H996.5V924.8H972.5ZM972.5 925.4H1002V939.8H972.5ZM934.8 940.5H945.2V964H934.8ZM948.4 955H958.8V978.4H948.4ZM962 943.7H972.5V967.1H962ZM962 969.4H972.5V992H962ZM972.5 969.4H983V992H972.5ZM972.5 939.8H1001V967H987V960H972.5ZM989.2 971.3H999.7V993.8H989.2Z"/>
<use href="#cb" x="1029.6" y="972"/>
<path d="M1056.4 943.7H1067.7V967H1056.4ZM1085 943.7H1095.8V967H1085Z"/>
<use href="#ct" x="1090" y="905"/>
<path d="M1166.5 844H1182.4V878.8H1166.5ZM1149.8 874.6H1159.7V898H1149.8Z"/>
<circle cx="1204" cy="889" r="17"/><path d="M1204 866V872"/>
<path stroke-width="2.2" d="M1133.5 908.7V926M1133.5 926H1145.7M1133.5 908.7H1145.7"/>
<path d="M1163 901.3H1149.3V930.2H1163V923H1177.4V908.7H1163ZM1181 936V923H1188V908.7H1203.7V923H1211.4V936ZM1183.3 937.3H1206V947H1183.3ZM1182.4 950H1192.4V972H1182.4ZM1123.5 940.5H1133.5V964H1123.5ZM1134.4 940.5H1144.8V964H1134.4ZM1160.7 944H1175V973H1160.7V966.2H1148V951.8H1160.7ZM1104.4 984.8H1115.3V1008.3H1104.4Z"/>
<use href="#vr" x="1120.8" y="980"/><use href="#cr" x="1210.5" y="1004"/><use href="#vr" x="1218.3" y="906.8"/>
<path d="M1273 823.2H1362L1367 829V917L1362 922.2H1273L1267.7 917V829Z"/>
<circle cx="1334" cy="983.2" r="54"/><path fill="url(#hr)" stroke-width="1" d="M1313.5 933.2A54 54 0 0 0 1313.5 1033.2V990L1318 985V980L1313.5 976Z"/>
<path d="M1305.8 1057H1319.4V1230.5H1305.8Z"/><path stroke-width=".8" d="M1305.8 1057V1044H1319.4V1057"/>
<path d="M1197 1106H1207.4V1129.4H1197ZM1210.5 1106H1221V1129.4H1210.5ZM1228.7 1106H1239V1129.4H1228.7Z"/>
<path d="M811 1007.3H993V1047.4H811ZM853.6 1026H950.7V1043H853.6Z"/><path stroke-width="1" d="M929.4 1008H958.4V1028H929.4ZM943.9 1008V1028M929.4 1017.6H958.4"/>
</g>

<!-- labels -->
<g>
<text class="m" x="232" y="112">Q5</text><text class="m" x="397" y="112">Q4</text><text class="m" x="502" y="123" style="font-size:15px">L1A</text>
<text class="v m" x="163" y="171.6">C34</text><text class="v m" x="178.6" y="171.6">C33</text><text class="m" x="171" y="195">C18</text><text class="m" x="171" y="211">R6</text><text x="169.5" y="225">C30</text>
<text class="m" x="197.4" y="187.6">TP1</text><text class="v B" x="194.8" y="231.5" style="font-size:11.5px">DRIVER</text>
<text class="m" x="211" y="161.6">C24</text><text x="253.6" y="161.7" style="font-size:11px">C13</text><text class="l" x="234.4" y="201.4">L7</text><text class="l" x="278.4" y="219.4">R24</text>
<text class="v m" x="300" y="170">R21</text><text class="v m" x="318" y="173">L6</text><text class="v m" x="336" y="170">C35</text><text class="m" x="364" y="161.3">R10</text><text class="B" x="364" y="176.8" style="font-size:8px">JP5</text>
<text class="m" x="408.7" y="155">C23</text><text class="m" x="408.7" y="173">C5</text><text class="v m" x="309.5" y="218" >C47</text><text class="v m" x="364.2" y="218">C48</text><text class="v m" x="396" y="207">L8</text>
<text class="l" x="435" y="209">L1</text><text class="B m" x="458" y="225" style="font-size:14px">HA/PWR</text><text class="v m" x="501" y="171.6">C15</text><text class="v m" x="501" y="213">C25</text>
<text class="l" x="531.7" y="180.7">L2</text><text class="l" x="591.6" y="178.3">L3</text><text class="l" x="653.8" y="178.3">L4</text><text class="l" x="726.3" y="178.3">L5</text><text class="m" x="575.5" y="138.5">C26</text>
<text class="v m" x="623" y="170">C20</text><text class="v m" x="623" y="217.7">C27</text><text class="v m" x="689.3" y="145.5">C28</text><text class="v m" x="689" y="179.7">C16</text>
<text x="717" y="215.9">R11</text><text x="743.6" y="234.2">C31</text><text class="m" x="775" y="231">ANT1</text><text class="n" x="665" y="271">JP4</text><text class="l" x="541" y="258.8">D6</text>

<text class="x" x="176" y="290">T3</text><text class="x" x="177" y="407">T1</text><text class="x" x="176" y="595">T2</text>
<text class="v" x="227" y="264.3">R32</text><text x="251" y="274">Q14</text><text x="248.9" y="285.8">C50</text><text x="248.9" y="297">R34</text><text class="v" x="222.7" y="318.6">C39</text><text class="v" x="234.8" y="318.6">R26</text>
<text x="158" y="344.5">Q3</text><text class="v" x="153" y="365">R15</text><text class="v" x="168" y="365">R19</text><text class="v" x="182.6" y="365">C29</text><text class="v" x="197.2" y="365">C9</text>
<text x="229" y="358">Q13</text><text class="v" x="250" y="359">C45</text><text class="v" x="250" y="384.7">R25</text><text x="227" y="379.7">R27</text>
<text class="m" x="255" y="410">TP3</text><text class="B m" x="261.6" y="420.5">TX_B+</text><text x="225.8" y="430.6">R18</text><text x="230" y="450">Q7</text><text x="199.3" y="450.3">C14</text>
<text x="159" y="465">R1</text><text x="186" y="465">C3</text><text x="218.5" y="470.4">R20</text><text x="199.3" y="480.3">C8</text><text x="155.5" y="483.5">D2</text><text x="229" y="490">Q11</text>
<text class="v" x="192.5" y="500">C4</text><text x="218.5" y="510">R23</text><text x="199.3" y="519.4">C12</text><text x="155.5" y="516.5">D1</text><text x="229" y="529.5">Q9</text>
<text x="159" y="533">R2</text><text x="186" y="533">C2</text><text x="159" y="549.6">C1</text><text x="195.5" y="549.6">C11</text><text x="218.5" y="549.6">R17</text><text x="252.6" y="549.6">C158</text>
<text x="227" y="574.5">Q6</text><text x="227" y="594">R9</text><text x="231" y="615.4">Q2</text><text x="255.5" y="607.5">C38</text><text x="255.5" y="618.7">R14</text>
<text x="218.5" y="637">R16</text><text x="243.5" y="637">C10</text><text class="v" x="197.2" y="643.4">C44</text><text x="218.5" y="649.8">R31</text><text x="218.5" y="662">I59</text>

<text class="v" x="340.8" y="378">R149</text><text x="357" y="384">D25</text><text x="392.5" y="384.3">C139</text><text x="392.5" y="394.5">R152</text><text x="392.5" y="411">C118</text><text x="361" y="407">Q52</text>
<text class="v" x="341" y="441">R150</text><text x="363" y="435.5">C133</text><text x="363" y="445.7">C134</text><text x="393" y="442">Q45</text><text x="361" y="473">D24</text>
<text class="v" x="380.5" y="468.5">R128</text><text class="v" x="391" y="468.5">C125</text><text class="v" x="401.3" y="468.5">R140</text>
<text class="x" x="441" y="391">T9</text><text class="x" x="442" y="454">T8</text><text class="x" x="442" y="528">T7</text><text class="x" x="442" y="623">T6</text>
<text class="v" x="489.8" y="412.3">C128</text><text class="v" x="501.3" y="412.3">R129</text><text class="v" x="512.7" y="412.3">R141</text><text class="v" x="489.8" y="458.7">C123</text><text class="v" x="501.3" y="458.7">R127</text><text class="v" x="489.5" y="495">C112</text>
<text x="386" y="323.5">Q48</text><text x="386" y="353">Q49</text><text x="421.9" y="323.3">C119</text><text x="421.9" y="345">C120</text><text class="v" x="460" y="338.5">C113</text><text x="486" y="332">Q47</text><text x="509" y="332">D21</text><text x="496.2" y="353">R142</text>
<text x="497" y="364.5">18</text><text x="497" y="377">19</text><text x="520.7" y="364.7">R122</text><text x="520.7" y="377">R123</text>
<text class="v" x="340.8" y="511">R148</text><text class="v" x="355" y="511.5">D26</text><text class="v" x="355" y="541">Q53</text><text x="388.7" y="511.2">C132</text><text x="388.7" y="526.3">C131</text>
<text x="399" y="570.5">Q44</text><text x="370.9" y="577.5">R139</text><text x="370.9" y="590.8">C107</text><text class="v" x="420.2" y="577.7">C155</text><text class="v" x="436.8" y="577.7">C127</text><text class="v" x="447" y="577.7">R126</text><text x="468.5" y="570.5">Q46</text><text class="v" x="395.6" y="633.3">C111</text>
<text x="474.7" y="665.3">R125</text><text x="474.7" y="675.5">C126</text><text class="v" x="427" y="684.8">R138</text><text class="v" x="438.5" y="684.8">C130</text>
<text class="u l" x="395.5" y="698">XF2</text><text class="u l" x="395.5" y="790">XF1</text><text class="l" x="396" y="864.5">XT2</text>

<text class="m" x="135.8" y="693" style="font-size:11px">VCO</text><text class="m" x="185.8" y="693" style="font-size:11px">TP9</text><text class="v" x="184.4" y="713">R13</text><text x="205.5" y="719.5">Q10</text><text class="v" x="197.3" y="740.5">C36</text><text class="v" x="136.5" y="755.7">R5</text><text class="x" x="181" y="783.8">T4</text>
<text x="142" y="835">Q8</text><text class="v" x="159.2" y="838">C32</text><text class="v" x="159.2" y="861.7">C37</text><text x="178" y="828.5">R4</text><text x="178" y="838.5">C19</text><text x="178" y="848.2">C40</text><text x="178" y="858">C42</text><text x="178" y="868">C41</text>
<text x="208" y="833.7">D3</text><text x="208" y="863.5">D5</text><text x="208" y="893">D4</text><text class="v" x="223.8" y="840">R29</text><text x="140" y="854.5">R12</text><text x="142.7" y="868">C46</text><text x="142.7" y="877.8">R28</text><text x="165.5" y="877.8">C43</text><text class="v" x="182.7" y="885.3">R22</text><text x="164" y="891">Q12</text>
<text x="136" y="900.3">R7</text><text x="136" y="909.2">R3</text><text x="136" y="927.4">C7</text><text x="169.5" y="917.3">C22</text><text x="200.9" y="912.5">R30</text><text class="c B m" x="174" y="931.5" style="font-size:12px">C49A</text>
<text class="B m" x="214" y="946.7">CB_FIN</text><text class="v" x="189" y="966" >ZD1</text><text class="m" x="206" y="956">TP2</text><text class="u" x="130" y="970" >C6</text>
<text class="v" x="176.2" y="981.9">C51</text><text class="v" x="166.4" y="993.5">R45</text><text class="v" x="189.3" y="995">R35</text><text x="166.4" y="1025">CT2</text><text class="v" x="194.4" y="1034.5">R49</text><text class="v" x="204.3" y="1034.5">R52</text><text class="v" x="194.4" y="1063">C61</text>
<text class="x" x="251.4" y="1005" style="font-size:18px">IC1</text><text class="l" x="230.3" y="1098.6">XT1</text><text class="v" x="310.9" y="1078.8">C60</text><text class="m" x="336.4" y="1091.5" style="font-size:11px">CT4</text><text class="B m" x="337.4" y="1101.5">UK.F</text><text class="B" x="328" y="1041" style="font-size:12px">CB_FIN</text>
<text class="m" x="372" y="1024.3" style="font-size:11px">CT3</text><text class="B m" x="372" y="1036.8">CE.F</text><text class="v" x="394" y="1062.2">R55</text><text class="v" x="408" y="1063.3">D9</text><text class="v" x="421.7" y="1061.2">I57</text>
<text class="m" x="305.8" y="989" style="font-size:11px">TP5</text><text class="B m" x="331.3" y="986.2">CB_FIN</text><text class="m" x="310" y="1029.3" style="font-size:11px">TP6</text><text x="331" y="1001.7">R44</text><text x="331" y="1021.5">R47</text>
<text x="273.5" y="945.4">R36</text><text x="304.6" y="945">R37</text><text x="304.6" y="957">R38</text><text x="304.6" y="968.8">R40</text><text class="v" x="342.3" y="939">R42</text>
<text class="i" x="288.8" y="915.5">CT1</text><text class="m" x="258" y="925" style="font-size:11px">TP4</text><text class="v" x="243" y="919">C49</text><text class="v" x="245.5" y="870">C67</text><text class="v" x="255.2" y="870">R41</text><text class="v" x="255.2" y="892.8">R53</text>
<text x="340" y="883">Q20</text><text class="i" x="340" y="913">Q22</text><text class="m" x="334" y="814.6" style="font-size:11px">VR1</text><text class="B" x="337" y="828.6" style="font-size:17px">DEV</text><text class="v" x="331.2" y="851.4">C53</text>
<text x="270" y="789.5">Q1</text><text class="v" x="286" y="790.3">C17</text><text class="v" x="297.3" y="790.3">R8</text><text class="v" x="310" y="790.3">C65</text><text class="v" x="321" y="790.3">R62</text>
<text class="m" x="431" y="942.4" style="font-size:11px">CT11</text><text x="436.7" y="879">C140</text><text x="468.2" y="879">C151</text><text x="468.2" y="894.3">R124</text>
<text class="v" x="492.7" y="887.7">C137</text><text class="v" x="502.7" y="887.7">C138</text><text class="v" x="512.7" y="887.7">C136</text><text class="v" x="522.7" y="887.7">R146</text><text class="v" x="532.7" y="887.7">C143</text>
<text class="x" x="501" y="944">CF1</text><text class="x" x="479" y="834" style="font-size:18px">IC4</text><text class="x" x="569" y="876" style="font-size:18px">T10</text>

<text x="500" y="714">C106</text><text x="430.2" y="744.3">C122</text><text x="464" y="743.5">D17</text><text x="492.7" y="746.2">R115</text><text class="v" x="456.6" y="766">R116</text><text x="474" y="783.5">D16</text>
<text class="v" x="496.2" y="769">C104</text><text class="v" x="507.7" y="769">C105</text><text class="v" x="519" y="769">C108</text><text class="v" x="529.5" y="769">R119</text><text class="v" x="539.7" y="769">C124</text><text x="502.7" y="787">R120</text><text class="v" x="529" y="794.2">C109</text><text class="v" x="539" y="794.2">R136</text><text class="v" x="553.8" y="769">C129</text><text class="v" x="553.8" y="795">R131</text>
<text class="x" x="597.5" y="761.4" style="font-size:17px">U10</text><text class="v" x="530.6" y="820">C116</text><text class="v" x="542.3" y="820">C110</text><text class="v" x="553.6" y="820">R130</text><text class="v" x="566.8" y="822.5">C115</text><text class="v" x="578.3" y="822.5">R114</text>
<text x="595" y="815.8">C102</text><text x="595" y="828.3">C103</text><text class="v" x="611.4" y="822">R111</text><text x="634.7" y="806.8">R118</text><text x="628.5" y="817">C141</text><text x="628.5" y="828.3">R143</text><text x="651.4" y="828.3">C135</text><text x="616" y="853">Q57</text><text class="v" x="645.7" y="846.7">R110</text><text class="v" x="657.4" y="846.7">R144</text>
<text x="682.3" y="815.3">R160</text><text x="705.8" y="815.3">R158</text><text x="679" y="828.7">D23</text><text x="682.3" y="841.8">C143</text><text class="v" x="700.6" y="835">R151</text><text class="v" x="712" y="835">R154</text><text class="v" x="723.6" y="835">R165</text><text x="692.3" y="854.7">R145</text><text x="716" y="855">D22</text>
<text class="v" x="724.2" y="808.7">R167</text><text class="v" x="735.4" y="808.7">C148</text><text x="717" y="782">Q54</text><text x="719.3" y="762.7">R168</text><text class="v" x="702" y="757.3">R169</text><text class="v" x="721.3" y="743">Q55</text>
<text x="757" y="754">C79</text><text x="757" y="794.8">C149</text><text x="755" y="836.8">C76</text><text x="671" y="736.3">R171</text><text class="v" x="649.3" y="743">R172</text><text x="677" y="751">D28</text><text class="v" x="656" y="774">D30</text><text x="679" y="782">Q41</text>
<text x="701" y="724.2">R170</text><text x="701" y="704.3">R159</text><text x="701" y="691.8">R82</text><text x="701" y="678.2">R66</text><text class="m" x="684.5" y="663.7" style="font-size:11px">VR5</text><text class="B" x="688" y="675.2" style="font-size:15px">ASQ</text>
<text class="m" x="752.4" y="731" style="font-size:11px">VR7</text><text class="B" x="784" y="731" style="font-size:16px">SQ</text><text class="v" x="793" y="691.6">R112</text><text x="582" y="680">Q43</text><text class="v" x="606.3" y="679.3">R117</text><text class="v" x="568.8" y="704.7">R113</text><text class="v" x="588" y="704.7">R121</text><text x="579.5" y="722.8">R109</text>
<text x="622" y="885">C144</text><text class="v" x="658.2" y="881.7">C21</text><text x="703" y="891">C142</text><text x="609.8" y="912.5">R156</text><text class="v" x="645" y="911.6">R84</text><text class="v" x="558.7" y="928.8">R153</text><text class="v" x="569" y="928.8">R152</text><text class="v" x="586.5" y="927.8">R157</text><text class="v" x="558.7" y="953">C147</text><text class="v" x="569" y="953">R155</text><text class="v m" x="583" y="960.6">CT10</text>
<text class="v" x="602" y="933">Q51</text><text class="v" x="602" y="962.5">Q50</text><text class="v" x="644.8" y="958.3">R147</text><text class="x" x="684" y="945">T11</text><text class="m" x="760" y="952.7" style="font-size:11px">VR6</text><text class="B" x="773.6" y="967" style="font-size:16px">LEVEL</text>
<text class="v" x="723" y="960">C146</text><text class="v" x="735" y="960">R135</text><text class="v" x="786.2" y="932">C114</text><text class="v" x="801.2" y="932">R133</text><text x="737" y="873">C117</text><text x="763.4" y="873">R137</text><text x="796" y="881.5">D20</text><text x="791" y="901.3">R134</text><text class="v" x="814.5" y="879.3">C121</text>
<text x="489" y="1018">J1</text><text class="v" x="457.7" y="1060.6">C156</text><text class="v" x="457.7" y="1086">C95</text><text x="489.7" y="1073">C93</text><text class="v" x="521" y="1076">R100</text><text class="v" x="532.7" y="1076">R99</text><text x="550.3" y="1059.7">C96</text><text x="550.3" y="1070">R106</text>

<text class="v B m" x="306.5" y="1150">PLL_EN</text><text class="v B m" x="321.8" y="1158">PLL_CLK</text><text class="v B m" x="336.4" y="1152.3">PLL_DATA</text><text class="v B m" x="349" y="1152.5">TX_OUT</text><text class="v B m" x="364.6" y="1144.3">BAND_UK_FRE</text><text class="v B m" x="379.6" y="1144.6">TX_UNLOCK</text>
<text class="v B m" x="396" y="1160.2">BAND3</text><text class="v B m" x="409.5" y="1160">BAND2</text><text class="v B m" x="425.5" y="1159">SQ_IN</text><text class="v B m" x="440.8" y="1157">CH_UP</text><text class="v B m" x="453.7" y="1157">CH_DN</text><text class="v B m" x="470.7" y="1165">5V</text><text class="v B m" x="485.3" y="1168">FC</text>
<text class="v B m" x="499.6" y="1159">MIC_IN</text><text class="v B m" x="515" y="1159.7">AK_STB</text><text class="v B m" x="528.5" y="1156">X_IN</text><text class="v B m" x="543" y="1146.5">AK_DET_OUT</text><text class="v B m" x="557.4" y="1157.5">AK+CLK</text><text class="v B m" x="572.7" y="1151.5">VLB_SW</text><text class="v B m" x="587.3" y="1154.6">ASQ_OUT</text>
<text class="v B m" x="602" y="1157.4">SP_GND</text><text class="v B m" x="616.5" y="1154.7">AK_EN</text><text class="v B m" x="632.8" y="1153">R.BEEP</text><text class="v B m" x="648" y="1160">AM_FW</text><text class="v B m" x="662.4" y="1157">AM_1W</text><text class="v B m" x="677.5" y="1156.7">SW_ON</text><text class="v B m" x="689.6" y="1158.8">RSSI</text><text class="v B m" x="705.6" y="1158">A_MUTE</text><text class="v B m" x="721.3" y="1166">9V</text>

<text class="x B" x="647" y="424" style="--s:.8;font-size:19px">VLB_BOARD</text><text class="l" x="647" y="462">J3</text>
<text class="x" x="885" y="349" style="font-size:18px">T5</text><text class="v" x="945" y="170">C68</text><text x="993" y="177">R60</text><text class="x" x="970" y="236" style="font-size:18px">C59</text><text class="l" x="1088" y="157" >JACK2</text><text class="l" x="1187" y="164.7">JACK1</text>
<text class="l" x="1324.6" y="135">L11</text><text class="l" x="1291" y="167">L10</text><text class="l" x="1378" y="147">R108</text><text class="u" x="1039" y="214.4">C93</text><text class="v" x="1093" y="224.4">C99</text><text class="l" x="1041" y="270">C98</text>
<text class="v" x="1296" y="219.3">C101</text><text class="v" x="1329.5" y="219.3">C100</text><text class="l" x="1311.4" y="232.7">J2</text><text x="1329" y="275">Q36</text><text x="1361" y="282">Q35</text><text x="1353" y="300">R92</text><text x="1359" y="318.5">R93</text><text x="1356" y="338">R94</text>
<text class="m" x="1315" y="298.7" style="font-size:11px">VR4</text><text class="B" x="1318" y="313.3" style="font-size:16px">AVR</text><text class="v l" x="1425" y="291">Q32</text><text class="x" x="1149" y="315.7" style="font-size:18px">L9</text><text x="1250.5" y="340">Q38</text><text x="1291.6" y="328.5">R101</text><text x="1291.6" y="345">R107</text>
<text class="m" x="1323.6" y="369">D13</text><text class="v n" x="1232" y="367">D14</text><text class="v B n" x="1248.4" y="360.5">JP6</text><text class="v n" x="1265.6" y="367">D15</text>
<text class="x" x="1039" y="366" style="font-size:18px">C58</text><text class="x" x="1097" y="441" style="font-size:18px">C52</text><text class="x" x="1209" y="441" style="font-size:18px">C86</text><text class="v l" x="1433" y="413.6">U1</text>
<text x="1281.5" y="401.3">R54</text><text x="1281.5" y="413.8">R50</text><text class="v" x="1297.7" y="407.7">C54</text><text class="v" x="1308.2" y="407.7">C56</text><text class="v" x="1319.8" y="407.7">R53</text><text class="v" x="1331.2" y="407.7">R51</text><text class="v" x="1342.6" y="407.7">C55</text><text class="v" x="1354.2" y="407.7">C57</text>
<text x="1279.7" y="472">CT6</text><text x="1345.8" y="472">CT5</text><text class="v" x="1311.3" y="469">R57</text><text class="v" x="1311.3" y="492">R59</text><text class="v" x="1276.5" y="530">R95</text><text class="v" x="1306" y="530">R103</text><text class="v" x="1369" y="530">R96</text><text class="m" x="1339" y="545.5" style="font-size:15px">R104</text>
<text class="m" x="1238.4" y="576" style="font-size:15px">D12</text><text class="v B m" x="1273.5" y="577.5">C97</text><text x="1306" y="588">Q39</text><text x="1338" y="588">Q37</text><text class="v l" x="1424" y="585">Q34</text>
<text class="l" x="1130.5" y="544">C90</text><text class="l" x="1130" y="586">C84</text><text class="l" x="1076" y="586">C72</text><text class="l" x="1030.5" y="587">C70</text><text class="v" x="1164.3" y="584.5">C85</text><text x="1047.4" y="537.7">IC2</text><text class="v" x="1017.7" y="513">C73</text>
<text class="v" x="1079" y="513.3">R79</text><text class="v" x="1077.8" y="550.3">R69</text><text class="v" x="1109" y="510">Q56</text><text x="1104.3" y="531.2">R81</text><text class="B" x="1130" y="489.4" style="font-size:11px">D29</text>
<text x="814" y="517.5">Q21</text><text x="812" y="549">Q18</text><text x="812" y="581">Q40</text><text class="i" x="864" y="552.5">Q30</text><text class="v" x="894" y="528">R65</text><text class="v" x="894" y="554.7">R74</text><text x="917" y="521">Q27</text><text class="v" x="933.2" y="536">R61</text><text class="v" x="921.2" y="549.6">R58</text><text x="916" y="578">Q24</text><text class="v" x="933.2" y="578">C63</text><text x="915.5" y="608.7">Q25</text>
<text x="950" y="497">TP7</text><text class="B" x="950" y="506.4" style="font-size:11px">9V</text><text x="975" y="520">Q15</text><text x="975" y="551">Q16</text><text x="969" y="572.2">R39</text><text x="975" y="594">Q19</text><text x="872.3" y="595.5">TP8</text><text class="B" x="877.6" y="605">FMB+</text>
<text class="m" x="915" y="668" style="font-size:18px">R87</text><text class="l" x="1313" y="707">D7</text><text class="v l" x="892" y="768">JACK3</text><text class="l" x="1226.4" y="798.5">Q17</text>

<text x="894" y="813">C69</text><text x="971.5" y="790">C88</text><text class="v" x="989.8" y="795">R85</text><text class="v" x="1000.8" y="795">R76</text><text class="v" x="1012.7" y="805">R105</text><text x="995.6" y="811.8">C94</text><text class="v" x="932.2" y="805.4">R88</text>
<text class="v" x="932.2" y="830.3">R80</text><text class="v" x="943.6" y="830.3">C154</text><text class="v" x="954.5" y="830.3">C153</text><text class="v" x="966.3" y="830.3">R91</text><text class="v" x="977.7" y="830.3">C152</text><text class="v" x="989.4" y="830.3">C74</text><text class="v" x="1000.8" y="830.3">R75</text><text class="v" x="1012.6" y="830.3">R102</text>
<text class="v" x="894.8" y="856">R56</text><text class="v" x="905.6" y="856">R67</text><text class="v" x="918.8" y="853.5">C80</text><text class="v" x="931.6" y="856">C75</text><text class="v" x="943.6" y="859.5">R66</text><text x="1009" y="853">C87</text><text x="972.5" y="876.6">U4</text><text x="905" y="888">D11</text><text x="933.9" y="889.7">R89</text><text x="933.9" y="901">C81</text><text class="i" x="903.9" y="905.8">R90</text>
<text class="v" x="852.7" y="902.5">C64</text><text x="852" y="934">Q26</text><text x="884" y="934">Q31</text><text class="v" x="905" y="927.3">R68</text><text class="v" x="916.4" y="927.3">R63</text><text class="v" x="928.3" y="927.3">C66</text><text class="v" x="940" y="927.3">C77</text><text class="v" x="951.6" y="927.3">R71</text><text class="v" x="967.2" y="927.3">C82</text><text class="i" x="984.5" y="920.3">R70</text><text class="i" x="987" y="932.6">C71</text>
<text class="v" x="940" y="952.2">C78</text><text class="v" x="953.6" y="966.7">C83</text><text class="v" x="967.2" y="955.4">R86</text><text class="v" x="967.2" y="980.7">R97</text><text class="v" x="977.7" y="980.7">C91</text><text class="v" x="986" y="953">Q33</text><text class="v" x="994.4" y="982.5">R98</text>
<text x="1029.6" y="972">CT9</text><text class="u" x="1062" y="955.3">C92</text><text class="v" x="1090.4" y="955.3">R77</text><text class="l" x="1090" y="906">CT7</text><text class="v" x="1174.4" y="861.4">R46</text><text class="v" x="1154.8" y="886.3">R64</text><text x="1204" y="889">R48</text>
<text class="v" x="1139.6" y="917.3">D10</text><text x="1160" y="915.5">Q29</text><text x="1196" y="929">Q23</text><text x="1194.6" y="942">R164</text><text class="v" x="1187.4" y="961">R163</text><text class="v" x="1128.5" y="952.3">R72</text><text class="v" x="1139.6" y="952.3">R73</text><text x="1162" y="959">Q28</text><text class="v" x="1109.8" y="996.5">R78</text>
<text class="m" x="1149.8" y="1049.7" style="font-size:11px">VR3</text><text class="B" x="1148.4" y="1062.9" style="font-size:15px">MOD</text><text x="1208" y="1004">C78</text><text class="m" x="1246" y="972" style="font-size:11px">VR2</text><text class="B" x="1246.8" y="983.8" style="font-size:15px">AM1W</text><text class="x" x="1315" y="872.4" style="font-size:18px">R43</text><text class="x" x="1339" y="982" style="font-size:18px">C89</text><text class="v m" x="1312.6" y="1095.6">J6</text>

<text class="B" x="1264" y="1082" style="font-size:12px">13.5V</text><text class="B" x="1267" y="1100.5" style="font-size:12px">SW_ON</text><text class="B" x="1266" y="1116.5" style="font-size:12px">VOL_IN</text><text class="B" x="1266" y="1131.6" style="font-size:12px">RF_GAIN</text><text class="B" x="1349.8" y="1082" style="font-size:12px">GND</text><text class="B" x="1349.8" y="1102" style="font-size:12px">GND</text><text class="B" x="1363.4" y="1116.5" style="font-size:12px">VOL_OUT</text><text class="B" x="1349.8" y="1131.6" style="font-size:12px">GND</text>
<text class="v" x="1202.2" y="1117.7">R161</text><text class="v" x="1215.8" y="1117.7">R162</text><text class="v" x="1233.8" y="1117.7">C150</text>
<text x="948.8" y="1142" style="font-size:24px;--s:.8;letter-spacing:1.5px;stroke:#000;stroke-width:.4">EX_MAIN 090717 R4</text>
<text x="829.4" y="1002">MODULE2</text>
<text class="v B m" x="935.3" y="998.3">XIN</text><text class="v B m" x="917" y="973.6">TON_TX_OUT</text><text class="v B m" x="902" y="981.6">PLL_DATA</text><text class="v B m" x="886.3" y="984.6">AK_STB</text><text class="v B m" x="870.4" y="999.3">5V</text>
<text class="v B m" x="935.3" y="1077.8">GND</text><text class="v B m" x="917" y="1093.5">TONE_EN</text><text class="v B m" x="902" y="1094.7">RX_TONE_IN</text><text class="v B m" x="884" y="1083">AK_CLK</text><text class="v B m" x="870.4" y="1095.2">AK_DET_OUT</text>
</g>
</svg>
</body></html>
